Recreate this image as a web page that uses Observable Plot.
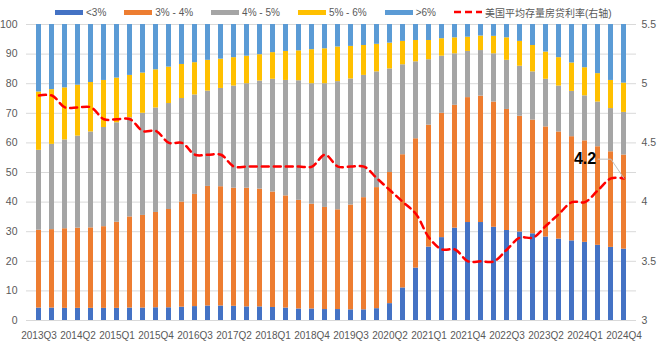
<!DOCTYPE html>
<html><head><meta charset="utf-8">
<script src="https://cdn.jsdelivr.net/npm/d3@7"></script>
<script src="https://cdn.jsdelivr.net/npm/@observablehq/plot@0.6"></script>
<style>
body{margin:0;background:#fff;font-family:"Liberation Sans","Noto Sans CJK SC",sans-serif;}
#wrap{position:relative;width:660px;height:346px;}
#legend{position:absolute;top:5px;left:55px;display:flex;gap:18px;font-size:10px;color:#595959;align-items:center;height:14px;white-space:nowrap;}
.item{display:flex;align-items:center;gap:3px;}
.sw{width:28px;height:5px;display:inline-block;}
</style></head><body>
<div id="wrap"><div id="chart"></div><div id="legend"></div></div>
<script>
const quarters = ["2013Q3","2013Q4","2014Q1","2014Q2","2014Q3","2014Q4","2015Q1","2015Q2","2015Q3","2015Q4",
"2016Q1","2016Q2","2016Q3","2016Q4","2017Q1","2017Q2","2017Q3","2017Q4","2018Q1","2018Q2","2018Q3","2018Q4",
"2019Q1","2019Q2","2019Q3","2019Q4","2020Q1","2020Q2","2020Q3","2020Q4","2021Q1","2021Q2","2021Q3","2021Q4",
"2022Q1","2022Q2","2022Q3","2022Q4","2023Q1","2023Q2","2023Q3","2023Q4","2024Q1","2024Q2","2024Q3","2024Q4"];
const tickLabels = ["2013Q3","2014Q2","2015Q1","2015Q4","2016Q3","2017Q2","2018Q1","2018Q4","2019Q3","2020Q2","2021Q1","2021Q4","2022Q3","2023Q2","2024Q1","2024Q4"];
const leftTicks = [0,10,20,30,40,50,60,70,80,90,100];
const rightTicks = [3,3.5,4,4.5,5,5.5];

const seriesNames = ["<3%","3% - 4%","4% - 5%","5% - 6%",">6%"];
const lineName = "美国平均存量房贷利率(右轴)";
const colors = ["#4472C4","#ED7D31","#A5A5A5","#FFC000","#5B9BD5"];

const lt3 = [4.2,4.2,4.1,4.1,4.1,4.1,4.1,4.2,4.2,4.3,4.3,4.5,4.7,4.9,4.9,4.8,4.6,4.6,4.4,4.2,3.9,3.9,3.7,3.7,3.6,3.6,4.0,5.7,11,17.7,24.8,28,31.2,33.1,33.1,31.5,30.4,29.9,29.3,28.2,27.5,26.9,26.4,25.4,24.7,24.1];
const p3to4 = [26.3,26.5,26.9,27.1,27.2,27.6,29.1,30.8,31.3,32.2,33.2,35.5,37.9,40.4,40.3,39.9,40.1,39.8,39.0,37.9,36.7,35.4,34.5,33.7,35.4,37.9,40.9,44.3,45,43.7,41.2,42,41.5,42.2,42.7,42.3,40.9,39.1,38.4,37.2,36.2,35.2,34.3,33.3,32.3,31.8];
const p4to5 = [27,28.8,30,31.1,32.4,33.5,33.6,33.5,34.5,35.3,35.8,35,33.6,32.2,33.2,34.5,35.3,36.5,38.1,39,40.4,40.7,41.8,43.3,42.6,41.3,39.1,35,30.4,26,22.1,19.3,17.4,15.6,15.4,16.3,16.6,16.9,16.3,16.1,15.5,15.3,15.2,15.1,14.6,14.4];
const p5to6 = [19.7,18.5,17.6,17.2,16.7,15.9,15.1,14.3,13.6,12.9,12.3,11.5,10.9,10.4,9.9,9.6,9.3,8.9,9.0,9.8,10.1,11.5,11.8,11.7,11,10.1,9.3,8.7,7.9,7.2,6.5,5.9,5.4,4.8,4.9,5.9,7.6,8.4,8.9,9.2,9.6,9.6,9.5,9.6,9.5,9.9];
const gt6 = [22.8,22,21.4,20.5,19.6,18.9,18.1,17.2,16.4,15.3,14.4,13.5,12.9,12.1,11.7,11.2,10.7,10.2,9.5,9.1,8.9,8.5,8.2,7.6,7.4,7.1,6.7,6.3,5.7,5.4,5.4,4.8,4.5,4.3,3.9,4,4.5,5.7,7.1,9.3,11.2,13,14.6,16.6,18.9,19.8];
const rate = [4.9,4.9,4.8,4.8,4.8,4.7,4.7,4.7,4.6,4.6,4.5,4.5,4.4,4.4,4.4,4.3,4.3,4.3,4.3,4.3,4.3,4.3,4.4,4.3,4.3,4.3,4.2,4.1,4.0,3.9,3.7,3.6,3.6,3.5,3.5,3.5,3.6,3.7,3.7,3.8,3.9,4.0,4.0,4.1,4.2,4.2];

const seriesValues = [lt3, p3to4, p4to5, p5to6, gt6];
const rows = seriesNames.flatMap((s, si) => quarters.map((q, i) => ({q, s, v: seriesValues[si][i]})));

// right axis (3 – 5.5) mapped onto left scale (0 – 100)
const r0 = 3, r1 = 5.5;
const toLeft = r => (r - r0) / (r1 - r0) * 100;
const lineData = quarters.map((q, i) => ({q, y: toLeft(rate[i])}));
const n = quarters.length;
const lastY = toLeft(rate[n - 1]);
const labelLift = 6.5;
const leader = [
  {q: quarters[n - 3], y: lastY + labelLift},
  {q: quarters[n - 2], y: lastY + labelLift},
  {q: quarters[n - 1], y: lastY}
];
const labelData = [{q: quarters[n - 4], y: lastY + labelLift, t: String(rate[n - 1])}];

const chart = Plot.plot({
  width: 660, height: 346,
  marginTop: 24, marginBottom: 26, marginLeft: 26, marginRight: 24,
  style: {fontFamily: '"Liberation Sans","Noto Sans CJK SC",sans-serif', fontSize: "10px", color: "#595959", background: "#fff", overflow: "visible"},
  x: {domain: quarters, paddingInner: 0.62, paddingOuter: 0.345, axis: null},
  y: {domain: [0, 100], axis: null},
  color: {domain: seriesNames, range: colors},
  marks: [
    Plot.gridY(leftTicks, {stroke: "#D9D9D9", strokeOpacity: 1, strokeWidth: 1}),
    Plot.barY(rows, {x: "q", y: "v", fill: "s"}),
    Plot.line(lineData, {x: "q", y: "y", stroke: "#FF0000", strokeWidth: 2.5, strokeDasharray: "7,5", curve: "catmull-rom"}),
    Plot.line(leader, {x: "q", y: "y", stroke: "#BFBFBF", strokeWidth: 1}),
    Plot.text(labelData, {x: "q", y: "y", text: "t", fontSize: 16, fontWeight: "bold", fill: "#000"}),
    Plot.axisX({ticks: tickLabels, tickSize: 0, tickPadding: 11, fontSize: 10, label: null}),
    Plot.axisY({anchor: "left", ticks: leftTicks, tickSize: 0, tickPadding: 9, fontSize: 10.5, label: null}),
    Plot.axisY({anchor: "right", ticks: rightTicks.map(toLeft), tickFormat: d => String(+(r0 + d / 100 * (r1 - r0)).toFixed(2)), tickSize: 0, tickPadding: 5, fontSize: 10.5, label: null})
  ]
});
document.getElementById("chart").appendChild(chart);

const legend = document.getElementById("legend");
seriesNames.forEach((s, i) => {
  const it = document.createElement("span");
  it.className = "item";
  it.innerHTML = `<span class="sw" style="background:${colors[i]}"></span><span>${s.replace("<","&lt;").replace(">","&gt;")}</span>`;
  legend.appendChild(it);
});
const li = document.createElement("span");
li.className = "item";
li.innerHTML = `<svg width="28" height="6"><line x1="0" y1="3" x2="28" y2="3" stroke="#FF0000" stroke-width="2.5" stroke-dasharray="7,4"/></svg><span>${lineName}</span>`;
legend.appendChild(li);
</script>
</body></html>
